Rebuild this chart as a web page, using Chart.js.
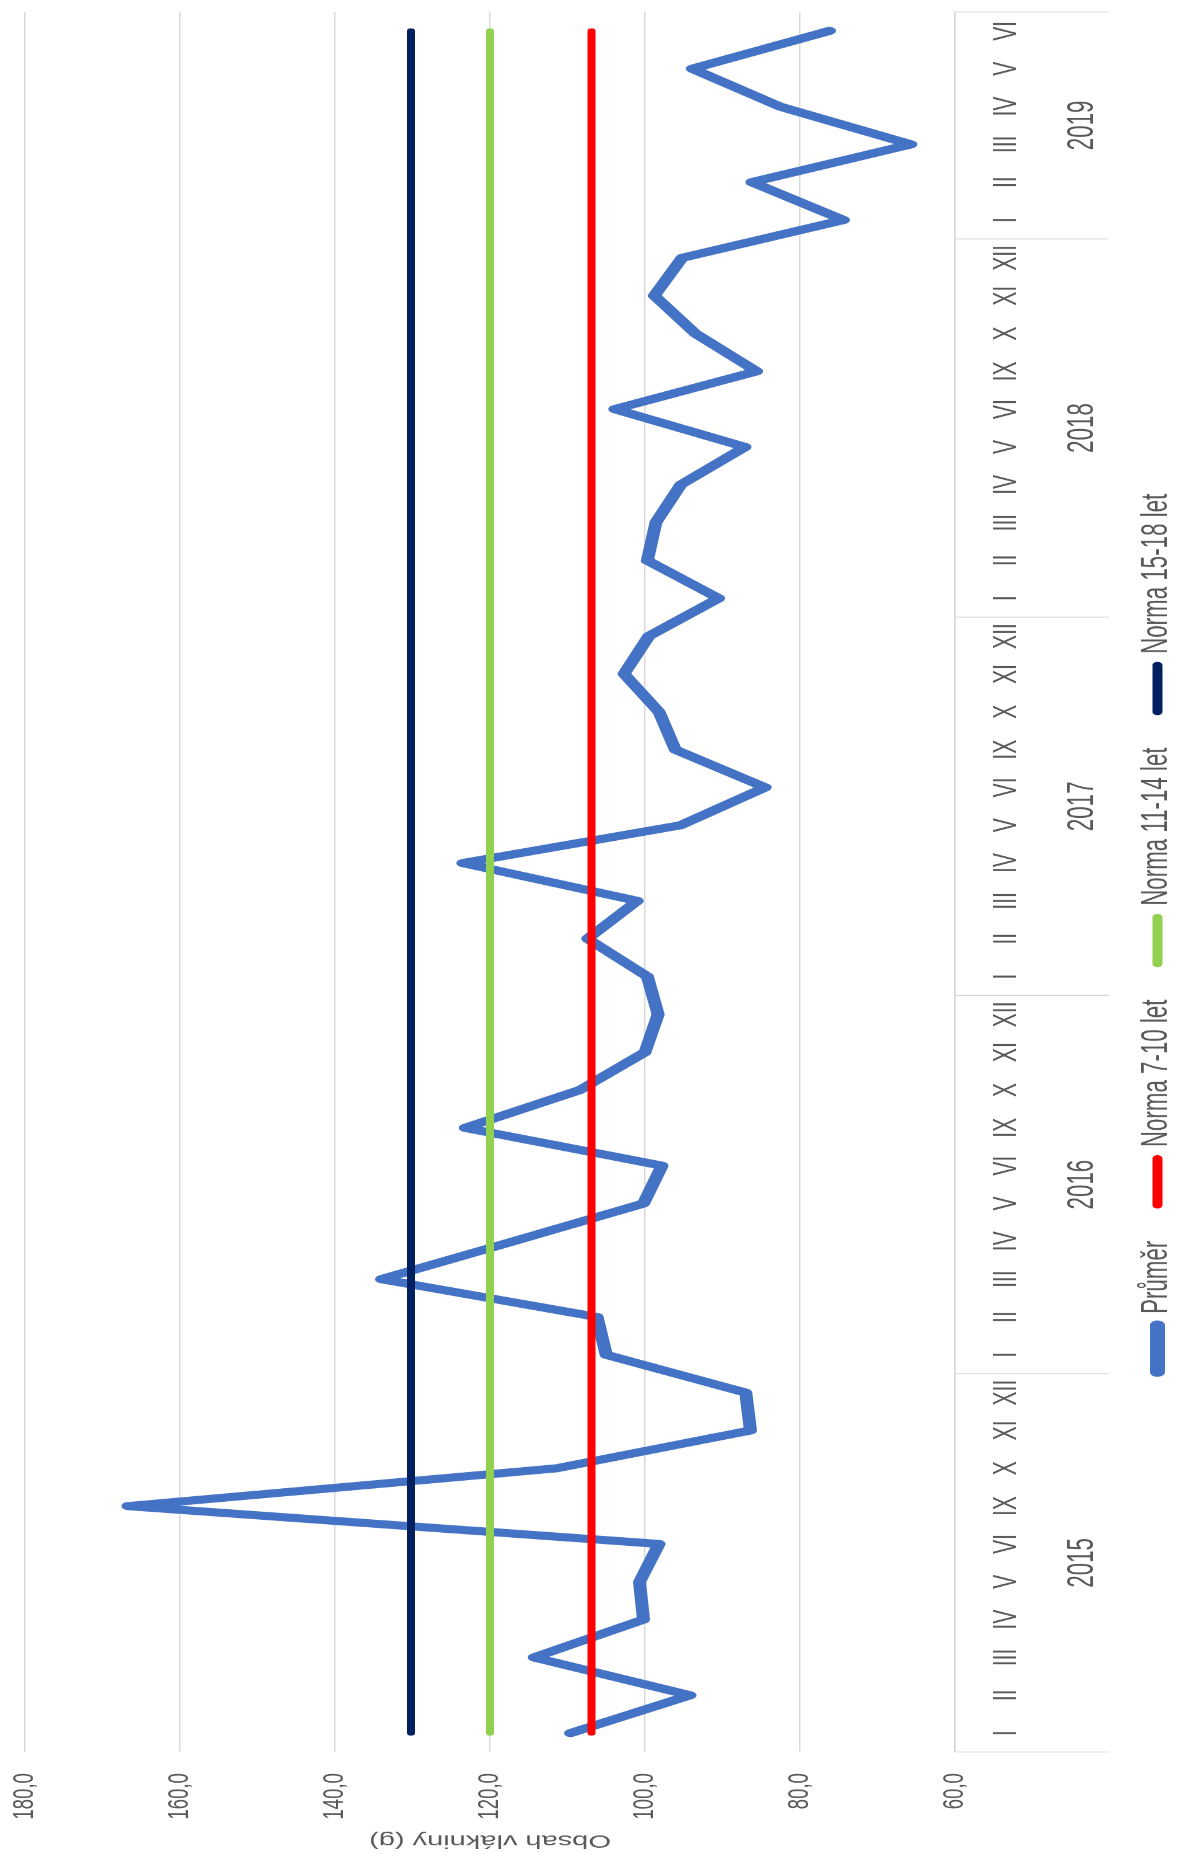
<!DOCTYPE html>
<html lang="cs">
<head>
<meta charset="utf-8">
<title>Obsah vlákniny</title>
<script src="https://cdn.jsdelivr.net/npm/chart.js@4.4.1/dist/chart.umd.min.js"></script>
<style>
  html, body { margin: 0; padding: 0; width: 1177px; height: 1854px; overflow: hidden; background: #ffffff; }
  /* The chart is laid out landscape and turned a quarter turn to stand on the page. */
  #wrap {
    position: absolute; left: 0; top: 0;
    width: 2990px; height: 1200px;
    transform-origin: 0 0;
    transform: translate(0px, 1854px) rotate(-90deg) scaleX(0.62007);
  }
  canvas { display: block; }
</style>
</head>
<body>
<div id="wrap"><canvas id="chart" width="2990" height="1200"></canvas></div>
<script>
// Month labels per year (July and August are not surveyed)
const months2015 = ['I', 'II', 'III', 'IV', 'V', 'VI', 'IX', 'X', 'XI', 'XII'];
const months2016 = ['I', 'II', 'III', 'IV', 'V', 'VI', 'IX', 'X', 'XI', 'XII'];
const months2017 = ['I', 'II', 'III', 'IV', 'V', 'VI', 'IX', 'X', 'XI', 'XII'];
const months2018 = ['I', 'II', 'III', 'IV', 'V', 'VI', 'IX', 'X', 'XI', 'XII'];
const months2019 = ['I', 'II', 'III', 'IV', 'V', 'VI'];
const years = ['2015', '2016', '2017', '2018', '2019'];
const monthGroups = [months2015, months2016, months2017, months2018, months2019];
const categories = monthGroups.flat();

// Average fibre content of the served menu (g)
const prumer = [
  109.6, 94.2, 114.3, 100.2, 100.7, 98.2, 166.7, 111.4, 86.4, 87.0,
  105.0, 106.2, 134.0, 117.0, 100.2, 97.8, 123.2, 108.4, 100.0, 98.3,
  99.7, 107.4, 101.0, 123.5, 95.4, 84.5, 96.1, 98.2, 102.7, 99.5,
  90.5, 99.7, 98.6, 95.4, 87.1, 103.9, 85.6, 93.5, 98.8, 95.2,
  74.4, 86.2, 65.7, 82.6, 93.9, 76.2
];

// Recommended amounts per age group (g)
const norma710Value = 106.9;
const norma1114Value = 120.0;
const norma1518Value = 130.2;
const norma710 = categories.map(() => norma710Value);
const norma1114 = categories.map(() => norma1114Value);
const norma1518 = categories.map(() => norma1518Value);

const yTicks = { min: 60, max: 180, step: 20 };

const FONT = '"Liberation Sans", Arial, sans-serif';
const TEXT = '#595959';
const GRID = '#d9d9d9';

// Draws the year row and the group dividers under the month labels
const yearAxisPlugin = {
  id: 'yearAxis',
  afterDraw(chart) {
    const x = chart.scales.x;
    const ctx = chart.ctx;
    const half = (x.getPixelForValue(1) - x.getPixelForValue(0)) / 2;
    const top = x.top;
    const bottom = x.top + 154;
    ctx.save();
    ctx.strokeStyle = GRID;
    ctx.lineWidth = 1.6;
    ctx.fillStyle = TEXT;
    ctx.font = '36px ' + FONT;
    ctx.textAlign = 'center';
    ctx.textBaseline = 'middle';
    let start = 0;
    monthGroups.forEach((group, k) => {
      const end = start + group.length - 1;
      const left = x.getPixelForValue(start) - half;
      const right = x.getPixelForValue(end) + half;
      ctx.beginPath();
      ctx.moveTo(left, top);
      ctx.lineTo(left, bottom);
      if (k === monthGroups.length - 1) {
        ctx.moveTo(right, top);
        ctx.lineTo(right, bottom);
      }
      ctx.stroke();
      ctx.fillText(years[k], (left + right) / 2, top + 128.5);
      start = end + 1;
    });
    ctx.restore();
  }
};

new Chart(document.getElementById('chart'), {
  type: 'line',
  data: {
    labels: categories,
    datasets: [
      { label: 'Průměr', data: prumer, borderColor: '#4472C4', backgroundColor: '#4472C4',
        borderWidth: 13, order: 4 },
      { label: 'Norma 7-10 let', data: norma710, borderColor: '#FF0000', backgroundColor: '#FF0000',
        borderWidth: 8, order: 1 },
      { label: 'Norma 11-14 let', data: norma1114, borderColor: '#92D050', backgroundColor: '#92D050',
        borderWidth: 8, order: 2 },
      { label: 'Norma 15-18 let', data: norma1518, borderColor: '#002060', backgroundColor: '#002060',
        borderWidth: 8, order: 3 }
    ]
  },
  options: {
    responsive: false,
    devicePixelRatio: 1,
    animation: false,
    events: [],
    elements: {
      line: { tension: 0, borderCapStyle: 'round', borderJoinStyle: 'round' },
      point: { radius: 0, hoverRadius: 0 }
    },
    layout: { padding: { top: 25, right: 19.3, bottom: 14.5, left: 0 } },
    plugins: {
      tooltip: { enabled: false },
      legend: {
        position: 'bottom',
        align: 'center',
        labels: {
          usePointStyle: true,
          pointStyle: 'line',
          pointStyleWidth: 76,
          padding: 57,
          color: TEXT,
          font: { family: FONT, size: 36 },
          sort: (a, b) => a.datasetIndex - b.datasetIndex,
          generateLabels(chart) {
            const items = Chart.defaults.plugins.legend.labels.generateLabels(chart);
            items.forEach(it => {
              it.lineWidth = it.datasetIndex === 0 ? 15 : 10;
              it.lineCap = 'round';
              it.pointStyle = 'line';
            });
            return items;
          }
        }
      }
    },
    scales: {
      x: {
        type: 'category',
        offset: true,
        grid: { display: true, color: 'transparent', drawTicks: true, tickLength: 31, tickColor: 'transparent' },
        border: { display: true, color: GRID, width: 1.5 },
        ticks: { padding: 0, autoSkip: false, maxRotation: 0, minRotation: 0, color: TEXT,
                 font: { family: FONT, size: 34 } },
        afterFit(scale) { scale.height = 127.5; }
      },
      y: {
        min: yTicks.min,
        max: yTicks.max,
        ticks: {
          stepSize: yTicks.step, padding: 0, color: TEXT,
          font: { family: FONT, size: 30 },
          callback: v => v.toFixed(1).replace('.', ',')
        },
        grid: { color: GRID, lineWidth: 1.5, drawTicks: true, tickLength: 34, tickColor: 'transparent' },
        border: { display: false },
        title: { display: true, text: 'Obsah vlákniny (g)', color: TEXT,
                 font: { family: FONT, size: 29 }, padding: { top: 5, bottom: 0 } },
        afterFit(scale) { scale.width = 164.5; }
      }
    }
  },
  plugins: [yearAxisPlugin]
});
</script>
</body>
</html>
